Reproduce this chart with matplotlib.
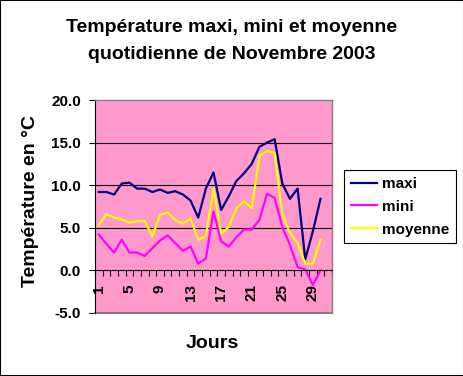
import numpy as np
import matplotlib.pyplot as plt
from matplotlib.patches import Rectangle

plt.rcParams['font.family'] = ['Liberation Sans', 'DejaVu Sans']
plt.rcParams['font.weight'] = 'bold'

days = list(range(1, 31))
maxi = [9.2, 9.2, 8.9, 10.2, 10.3, 9.6, 9.6, 9.2, 9.5, 9.1, 9.3, 8.9, 8.2, 6.2, 9.6,
        11.5, 7.1, 8.7, 10.5, 11.4, 12.5, 14.5, 15.0, 15.4, 10.2, 8.4, 9.6, 1.3, 4.6, 8.4]
mini = [4.2, 3.1, 2.1, 3.6, 2.1, 2.1, 1.7, 2.6, 3.5, 4.1, 3.2, 2.3, 2.8, 0.8, 1.4,
        6.9, 3.4, 2.8, 3.9, 4.8, 4.8, 5.9, 9.0, 8.5, 5.1, 3.0, 0.4, 0.1, -1.7, 0.0]
moyenne = [5.3, 6.6, 6.2, 6.0, 5.6, 5.8, 5.8, 4.0, 6.5, 6.8, 5.9, 5.5, 6.1, 3.6, 4.0,
           9.6, 4.3, 5.1, 7.3, 8.1, 7.3, 13.4, 14.0, 13.8, 6.5, 4.4, 3.2, 0.8, 0.8, 3.6]
n_cat = 31  # la serie a 31 lignes, la derniere vide
x_labels = [1, 5, 9, 13, 17, 21, 25, 29]

W, H = 464, 376
fig = plt.figure(figsize=(W / 100, H / 100), dpi=100)
ax = fig.add_axes([95 / W, 1 - 313 / H, 237 / W, 213 / H])
ax.set_facecolor('#FF99CC')

ax.plot(days, maxi, color='#000080', lw=1.6, label='maxi')
ax.plot(days, mini, color='#FF00FF', lw=1.6, label='mini')
ax.plot(days, moyenne, color='#FFFF00', lw=1.6, label='moyenne')

ax.set_xlim(0.5, n_cat + 0.5)
ax.set_ylim(-5, 20)

# grille
for g in [5, 10, 15]:
    ax.axhline(g, color='black', lw=0.8, zorder=0.5)

ax.spines['bottom'].set_position(('data', 0))
ax.spines['bottom'].set_color('black')
ax.spines['bottom'].set_linewidth(0.8)
ax.spines['left'].set_color('black')
ax.spines['left'].set_linewidth(0.8)
for s in ['top', 'right']:
    ax.spines[s].set_color('#808080')
    ax.spines[s].set_linewidth(1.0)
ax.axhline(-5, color='#808080', lw=1.5, clip_on=False)

ax.set_yticks([-5, 0, 5, 10, 15, 20])
ax.set_yticklabels([f'{v:.1f}' for v in [-5, 0, 5, 10, 15, 20]], fontsize=11, fontweight='bold')
ax.tick_params(axis='y', direction='out', length=4, width=0.8, pad=6)

ax.set_xticks(np.arange(0.5, n_cat + 1, 1.0), minor=True)
ax.set_xticks(x_labels)
ax.set_xticklabels([str(v) for v in x_labels], rotation=90, fontsize=11, fontweight='bold')
ax.tick_params(axis='x', which='major', length=0, pad=10)
ax.tick_params(axis='x', which='minor', direction='out', length=4, width=0.8)

fig.text(232 / W, 1 - 31.7 / H, 'Température maxi, mini et moyenne', ha='center', va='baseline',
         fontsize=14, fontweight='bold')
fig.text(232 / W, 1 - 59.3 / H, 'quotidienne de Novembre 2003', ha='center', va='baseline',
         fontsize=14, fontweight='bold')
fig.text(31 / W, 1 - 201 / H, 'Température en °C', rotation=90, ha='center', va='center',
         fontsize=14, fontweight='bold')
fig.text(212 / W, 1 - 343 / H, 'Jours', ha='center', va='center', fontsize=14, fontweight='bold')

leg = ax.legend(loc='upper left', bbox_to_anchor=(344 / W, 1 - 170 / H), bbox_transform=fig.transFigure,
                fancybox=False, edgecolor='black', framealpha=1, borderaxespad=0,
                handlelength=1.7, handletextpad=0.35, labelspacing=0.58, borderpad=0.45,
                prop={'size': 11, 'weight': 'bold'})
leg.get_frame().set_linewidth(0.8)

fig.patches.append(Rectangle((0, 0), 1, 1, transform=fig.transFigure, fill=False,
                             edgecolor='black', lw=1.5))

fig.savefig('out.png', dpi=100)
